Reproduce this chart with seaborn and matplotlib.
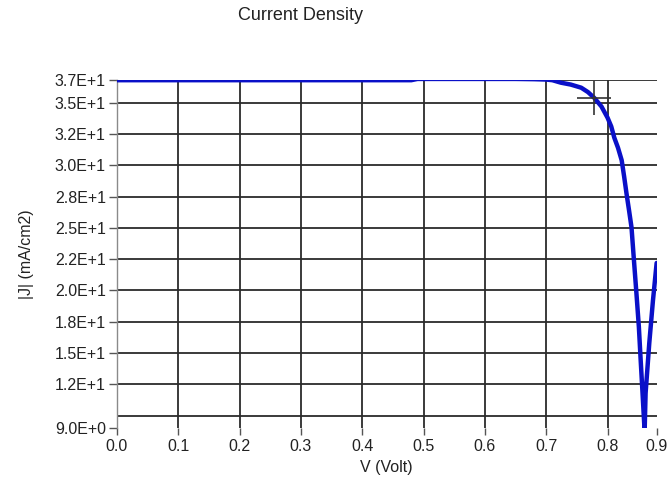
import matplotlib
matplotlib.use("Agg")
import matplotlib.pyplot as plt
import seaborn as sns
import pandas as pd

# |J|-V characteristic of the cell
voltage = [0.00, 0.10, 0.20, 0.30, 0.40, 0.48, 0.49, 0.55, 0.60, 0.65, 0.68,
           0.70, 0.71, 0.724, 0.740, 0.757, 0.768, 0.778, 0.790, 0.800, 0.806,
           0.811, 0.817, 0.823, 0.827, 0.831, 0.835, 0.839, 0.843, 0.847,
           0.851, 0.854, 0.857, 0.860, 0.8605, 0.862, 0.865, 0.868, 0.871,
           0.874, 0.877, 0.880]
current = [36.80, 36.80, 36.80, 36.80, 36.80, 36.80, 36.90, 36.90, 36.90,
           36.90, 36.88, 36.85, 36.80, 36.60, 36.45, 36.20, 35.85, 35.40,
           34.70, 33.80, 33.10, 32.20, 31.40, 30.40, 29.10, 27.70, 26.40,
           25.05, 22.40, 19.80, 17.10, 14.40, 11.80, 9.10, 8.90, 11.80,
           13.80, 15.80, 17.50, 19.20, 20.70, 22.20]

y_ticks = [9.0, 12.5, 15.0, 17.5, 20.0, 22.5, 25.0, 27.5, 30.0, 32.5, 35.0, 36.8]
y_labels = ["9.0E+0", "1.2E+1", "1.5E+1", "1.8E+1", "2.0E+1", "2.2E+1",
            "2.5E+1", "2.8E+1", "3.0E+1", "3.2E+1", "3.5E+1", "3.7E+1"]
x_ticks = [0.0, 0.1, 0.2, 0.3, 0.4, 0.5, 0.6, 0.7, 0.8, 0.88]
x_labels = ["0.0", "0.1", "0.2", "0.3", "0.4", "0.5", "0.6", "0.7", "0.8", "0.9"]
cursor_v, cursor_j = 0.778, 35.4

df = pd.DataFrame({"V (Volt)": voltage, "|J| (mA/cm2)": current})

sns.set_style("white")
plt.rcParams["font.family"] = ["Liberation Sans", "DejaVu Sans"]

fig = plt.figure(figsize=(6.68, 4.86), dpi=100)
ax = fig.add_axes([0.175, 0.119, 0.808, 0.716])

xmin, xmax = 0.0, 0.88
ymin, ymax = 9.0, 36.8

# grid lines
for xv in x_ticks[1:-1]:
    ax.axvline(xv, color="#2b2b2b", lw=1.3, zorder=1)
for yv in [10.0] + y_ticks[1:]:
    ax.axhline(yv, color="#2b2b2b", lw=1.3, zorder=1)

sns.lineplot(data=df, x="V (Volt)", y="|J| (mA/cm2)", ax=ax, color="#0a10c8",
             lw=3.2, estimator=None, sort=False, zorder=3, clip_on=True)

# cursor cross
ax.plot([cursor_v], [cursor_j], marker="+", markersize=24, mew=1.2,
        color="#333333", zorder=4)

ax.set_xlim(xmin, xmax)
ax.set_ylim(ymin, ymax)
ax.set_xticks(x_ticks)
ax.set_xticklabels(x_labels)
ax.set_yticks(y_ticks)
ax.set_yticklabels(y_labels)

for s in ["top", "right", "bottom"]:
    ax.spines[s].set_visible(False)
ax.spines["left"].set_color("#8a8a8a")
ax.spines["left"].set_linewidth(1.0)

ax.tick_params(axis="y", direction="out", length=6, width=1.0, color="#555555",
               pad=2, labelsize=11.5, labelcolor="#222222", left=True)
ax.tick_params(axis="x", direction="out", length=5, width=1.0, color="#555555",
               pad=3, labelsize=11.5, labelcolor="#222222", bottom=True)

ax.set_xlabel("V (Volt)", fontsize=11.5, color="#222222", labelpad=4)
ax.set_ylabel("|J| (mA/cm2)", fontsize=11.5, color="#222222", labelpad=15)

fig.text(0.45, 0.968, "Current Density", ha="center", va="center",
         fontsize=13, color="#222222")

fig.savefig("out.png", dpi=100, facecolor="white")
